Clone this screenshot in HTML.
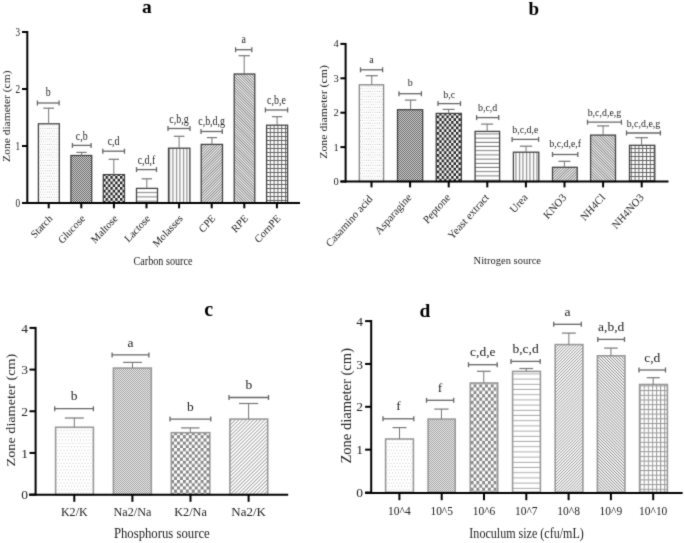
<!DOCTYPE html>
<html><head><meta charset="utf-8"><style>
html,body{margin:0;padding:0;background:#fff;width:685px;height:543px;overflow:hidden}
svg{display:block;will-change:transform}
text{font-family:"Liberation Serif",serif}
</style></head><body>
<svg width="685" height="543" viewBox="0 0 685 543" font-family="Liberation Serif, serif"><defs><filter id="soft" color-interpolation-filters="sRGB" x="0" y="0" width="100%" height="100%" filterUnits="userSpaceOnUse" primitiveUnits="userSpaceOnUse"><feConvolveMatrix order="3" kernelMatrix="0.02 0.09 0.02 0.09 0.56 0.09 0.02 0.09 0.02" edgeMode="duplicate" preserveAlpha="true"/></filter>
<pattern id="dots" patternUnits="userSpaceOnUse" width="2.2" height="5.3"><rect width="2.2" height="5.3" fill="#fff"/><rect x="0.6" y="0.8" width="0.7" height="0.7" fill="#888"/><rect x="1.7000000000000002" y="3.45" width="0.7" height="0.7" fill="#888"/></pattern>
<pattern id="fine" patternUnits="userSpaceOnUse" width="2" height="2"><rect width="2" height="2" fill="#e4e4e4"/><rect width="1" height="1" fill="#555"/><rect x="1" y="1" width="1" height="1" fill="#555"/></pattern>
<pattern id="coarse" patternUnits="userSpaceOnUse" width="4.8" height="5.5"><rect width="4.8" height="5.5" fill="#fff"/><rect width="2.4" height="2.75" fill="#222"/><rect x="2.4" y="2.75" width="2.4" height="2.75" fill="#222"/></pattern>
<pattern id="hl" patternUnits="userSpaceOnUse" width="4" height="4.2"><rect width="4" height="4.2" fill="#fff"/><rect y="3.2" width="4" height="1" fill="#777"/></pattern>
<pattern id="vl" patternUnits="userSpaceOnUse" width="3.5" height="4"><rect width="3.5" height="4" fill="#fff"/><rect x="1" width="1" height="4" fill="#777"/></pattern>
<pattern id="d1" patternUnits="userSpaceOnUse" width="1.95" height="4" patternTransform="rotate(45)"><rect width="1.95" height="4" fill="#fff"/><rect width="0.8" height="4" fill="#666"/></pattern>
<pattern id="d2" patternUnits="userSpaceOnUse" width="1.95" height="4" patternTransform="rotate(-45)"><rect width="1.95" height="4" fill="#fff"/><rect width="0.8" height="4" fill="#666"/></pattern>
<pattern id="grid" patternUnits="userSpaceOnUse" width="3.8" height="4.0"><rect width="3.8" height="4.0" fill="#fff"/><rect width="3.8" height="1" fill="#666"/><rect width="1" height="4.0" fill="#666"/></pattern>

<pattern id="dotsL" patternUnits="userSpaceOnUse" width="3.0" height="6.6"><rect width="3.0" height="6.6" fill="#fff"/><rect x="0.6" y="0.8" width="0.8" height="0.8" fill="#aaa"/><rect x="2.1" y="4.1" width="0.8" height="0.8" fill="#aaa"/></pattern>
<pattern id="fineL" patternUnits="userSpaceOnUse" width="2" height="2"><rect width="2" height="2" fill="#f4f4f4"/><rect width="1" height="1" fill="#999"/><rect x="1" y="1" width="1" height="1" fill="#999"/></pattern>
<pattern id="coarseL" patternUnits="userSpaceOnUse" width="5.9" height="6.4"><rect width="5.9" height="6.4" fill="#fff"/><rect width="2.95" height="3.2" fill="#888"/><rect x="2.95" y="3.2" width="2.95" height="3.2" fill="#888"/></pattern>
<pattern id="hlL" patternUnits="userSpaceOnUse" width="4" height="4.2"><rect width="4" height="4.2" fill="#fff"/><rect y="3.2" width="4" height="1" fill="#999"/></pattern>
<pattern id="vlL" patternUnits="userSpaceOnUse" width="3.5" height="4"><rect width="3.5" height="4" fill="#fff"/><rect x="1" width="1" height="4" fill="#999"/></pattern>
<pattern id="d1L" patternUnits="userSpaceOnUse" width="2.6" height="4" patternTransform="rotate(45)"><rect width="2.6" height="4" fill="#fff"/><rect width="0.8" height="4" fill="#999"/></pattern>
<pattern id="d2L" patternUnits="userSpaceOnUse" width="2.6" height="4" patternTransform="rotate(-45)"><rect width="2.6" height="4" fill="#fff"/><rect width="0.8" height="4" fill="#999"/></pattern>
<pattern id="gridL" patternUnits="userSpaceOnUse" width="3.8" height="4.0"><rect width="3.8" height="4.0" fill="#fff"/><rect width="3.8" height="1" fill="#999"/><rect width="1" height="4.0" fill="#999"/></pattern>

<pattern id="dotsD" patternUnits="userSpaceOnUse" width="3.0" height="6.6"><rect width="3.0" height="6.6" fill="#fff"/><rect x="0.6" y="0.8" width="0.8" height="0.8" fill="#aaa"/><rect x="2.1" y="4.1" width="0.8" height="0.8" fill="#aaa"/></pattern>
<pattern id="fineD" patternUnits="userSpaceOnUse" width="2" height="2"><rect width="2" height="2" fill="#f4f4f4"/><rect width="1" height="1" fill="#999"/><rect x="1" y="1" width="1" height="1" fill="#999"/></pattern>
<pattern id="coarseD" patternUnits="userSpaceOnUse" width="5.74" height="6.68"><rect width="5.74" height="6.68" fill="#fff"/><rect width="2.87" height="3.34" fill="#888"/><rect x="2.87" y="3.34" width="2.87" height="3.34" fill="#888"/></pattern>
<pattern id="hlD" patternUnits="userSpaceOnUse" width="4" height="5.2"><rect width="4" height="5.2" fill="#fff"/><rect y="4.2" width="4" height="1" fill="#aaa"/></pattern>
<pattern id="vlD" patternUnits="userSpaceOnUse" width="3.5" height="4"><rect width="3.5" height="4" fill="#fff"/><rect x="1" width="1" height="4" fill="#aaa"/></pattern>
<pattern id="d1D" patternUnits="userSpaceOnUse" width="2.1" height="4" patternTransform="rotate(45)"><rect width="2.1" height="4" fill="#fff"/><rect width="0.8" height="4" fill="#999"/></pattern>
<pattern id="d2D" patternUnits="userSpaceOnUse" width="2.1" height="4" patternTransform="rotate(-45)"><rect width="2.1" height="4" fill="#fff"/><rect width="0.8" height="4" fill="#888"/></pattern>
<pattern id="gridD" patternUnits="userSpaceOnUse" width="4.1" height="4.7"><rect width="4.1" height="4.7" fill="#fff"/><rect width="4.1" height="1" fill="#999"/><rect width="1" height="4.7" fill="#999"/></pattern>
</defs><g filter="url(#soft)"><rect width="685" height="543" fill="#fff"/><rect x="38.40" y="123.80" width="20.90" height="79.20" fill="url(#dots)" stroke="#444" stroke-width="1.3"/>
<line x1="48.65" y1="123.80" x2="48.65" y2="108.20" stroke="#777" stroke-width="1"/>
<line x1="43.30" y1="108.20" x2="54.00" y2="108.20" stroke="#777" stroke-width="1.2"/>
<line x1="37.40" y1="103.00" x2="59.10" y2="103.00" stroke="#666" stroke-width="1.3"/>
<line x1="37.40" y1="100.50" x2="37.40" y2="105.50" stroke="#666" stroke-width="1.3"/>
<line x1="59.10" y1="100.50" x2="59.10" y2="105.50" stroke="#666" stroke-width="1.3"/>
<text x="0" y="0" transform="translate(48.25 96.20) scale(0.83 1)" font-size="12" text-anchor="middle" fill="#222">b</text>
<rect x="70.90" y="155.50" width="20.80" height="47.50" fill="url(#fine)" stroke="#444" stroke-width="1.3"/>
<line x1="81.55" y1="155.50" x2="81.55" y2="152.40" stroke="#777" stroke-width="1"/>
<line x1="76.40" y1="152.40" x2="86.70" y2="152.40" stroke="#777" stroke-width="1.2"/>
<line x1="72.40" y1="145.40" x2="91.10" y2="145.40" stroke="#666" stroke-width="1.3"/>
<line x1="72.40" y1="142.90" x2="72.40" y2="147.90" stroke="#666" stroke-width="1.3"/>
<line x1="91.10" y1="142.90" x2="91.10" y2="147.90" stroke="#666" stroke-width="1.3"/>
<text x="0" y="0" transform="translate(81.75 140.00) scale(0.83 1)" font-size="12" text-anchor="middle" fill="#222">c,b</text>
<rect x="103.30" y="174.60" width="21.20" height="28.40" fill="url(#coarse)" stroke="#444" stroke-width="1.3"/>
<line x1="113.80" y1="174.60" x2="113.80" y2="159.30" stroke="#777" stroke-width="1"/>
<line x1="108.60" y1="159.30" x2="119.00" y2="159.30" stroke="#777" stroke-width="1.2"/>
<line x1="102.80" y1="151.20" x2="124.50" y2="151.20" stroke="#666" stroke-width="1.3"/>
<line x1="102.80" y1="148.70" x2="102.80" y2="153.70" stroke="#666" stroke-width="1.3"/>
<line x1="124.50" y1="148.70" x2="124.50" y2="153.70" stroke="#666" stroke-width="1.3"/>
<text x="0" y="0" transform="translate(113.65 145.00) scale(0.83 1)" font-size="12" text-anchor="middle" fill="#222">c,d</text>
<rect x="136.50" y="188.40" width="21.00" height="14.60" fill="url(#hl)" stroke="#444" stroke-width="1.3"/>
<line x1="146.80" y1="188.40" x2="146.80" y2="178.80" stroke="#777" stroke-width="1"/>
<line x1="141.60" y1="178.80" x2="152.00" y2="178.80" stroke="#777" stroke-width="1.2"/>
<line x1="136.50" y1="169.60" x2="156.50" y2="169.60" stroke="#666" stroke-width="1.3"/>
<line x1="136.50" y1="167.10" x2="136.50" y2="172.10" stroke="#666" stroke-width="1.3"/>
<line x1="156.50" y1="167.10" x2="156.50" y2="172.10" stroke="#666" stroke-width="1.3"/>
<text x="0" y="0" transform="translate(146.50 163.50) scale(0.83 1)" font-size="12" text-anchor="middle" fill="#222">c,d,f</text>
<rect x="168.50" y="148.20" width="21.40" height="54.80" fill="url(#vl)" stroke="#444" stroke-width="1.3"/>
<line x1="179.10" y1="148.20" x2="179.10" y2="136.30" stroke="#777" stroke-width="1"/>
<line x1="173.80" y1="136.30" x2="184.40" y2="136.30" stroke="#777" stroke-width="1.2"/>
<line x1="168.00" y1="128.50" x2="190.00" y2="128.50" stroke="#666" stroke-width="1.3"/>
<line x1="168.00" y1="126.00" x2="168.00" y2="131.00" stroke="#666" stroke-width="1.3"/>
<line x1="190.00" y1="126.00" x2="190.00" y2="131.00" stroke="#666" stroke-width="1.3"/>
<text x="0" y="0" transform="translate(179.00 122.80) scale(0.83 1)" font-size="12" text-anchor="middle" fill="#222">c,b,g</text>
<rect x="201.20" y="144.40" width="21.30" height="58.60" fill="url(#d1)" stroke="#444" stroke-width="1.3"/>
<line x1="211.95" y1="144.40" x2="211.95" y2="137.60" stroke="#777" stroke-width="1"/>
<line x1="206.90" y1="137.60" x2="217.00" y2="137.60" stroke="#777" stroke-width="1.2"/>
<line x1="201.00" y1="131.50" x2="222.30" y2="131.50" stroke="#666" stroke-width="1.3"/>
<line x1="201.00" y1="129.00" x2="201.00" y2="134.00" stroke="#666" stroke-width="1.3"/>
<line x1="222.30" y1="129.00" x2="222.30" y2="134.00" stroke="#666" stroke-width="1.3"/>
<text x="0" y="0" transform="translate(211.65 124.60) scale(0.83 1)" font-size="12" text-anchor="middle" fill="#222">c,b,d,g</text>
<rect x="234.20" y="74.00" width="20.60" height="129.00" fill="url(#d2)" stroke="#444" stroke-width="1.3"/>
<line x1="244.20" y1="74.00" x2="244.20" y2="55.70" stroke="#777" stroke-width="1"/>
<line x1="238.60" y1="55.70" x2="249.80" y2="55.70" stroke="#777" stroke-width="1.2"/>
<line x1="235.60" y1="49.70" x2="251.80" y2="49.70" stroke="#666" stroke-width="1.3"/>
<line x1="235.60" y1="47.20" x2="235.60" y2="52.20" stroke="#666" stroke-width="1.3"/>
<line x1="251.80" y1="47.20" x2="251.80" y2="52.20" stroke="#666" stroke-width="1.3"/>
<text x="0" y="0" transform="translate(243.70 42.80) scale(0.83 1)" font-size="12" text-anchor="middle" fill="#222">a</text>
<rect x="266.60" y="125.20" width="21.00" height="77.80" fill="url(#grid)" stroke="#444" stroke-width="1.3"/>
<line x1="277.10" y1="125.20" x2="277.10" y2="116.70" stroke="#777" stroke-width="1"/>
<line x1="271.90" y1="116.70" x2="282.30" y2="116.70" stroke="#777" stroke-width="1.2"/>
<line x1="265.40" y1="110.00" x2="287.60" y2="110.00" stroke="#666" stroke-width="1.3"/>
<line x1="265.40" y1="107.50" x2="265.40" y2="112.50" stroke="#666" stroke-width="1.3"/>
<line x1="287.60" y1="107.50" x2="287.60" y2="112.50" stroke="#666" stroke-width="1.3"/>
<text x="0" y="0" transform="translate(276.50 104.30) scale(0.83 1)" font-size="12" text-anchor="middle" fill="#222">c,b,e</text>
<line x1="27.30" y1="31.00" x2="27.30" y2="204.00" stroke="#000" stroke-width="2"/>
<line x1="22.00" y1="203.00" x2="27.30" y2="203.00" stroke="#000" stroke-width="2"/>
<text x="20.20" y="207.01" font-size="11.8" text-anchor="end" fill="#222" textLength="4.60" lengthAdjust="spacingAndGlyphs">0</text>
<line x1="22.00" y1="146.00" x2="27.30" y2="146.00" stroke="#000" stroke-width="2"/>
<text x="20.20" y="150.01" font-size="11.8" text-anchor="end" fill="#222" textLength="4.60" lengthAdjust="spacingAndGlyphs">1</text>
<line x1="22.00" y1="89.00" x2="27.30" y2="89.00" stroke="#000" stroke-width="2"/>
<text x="20.20" y="93.01" font-size="11.8" text-anchor="end" fill="#222" textLength="4.60" lengthAdjust="spacingAndGlyphs">2</text>
<line x1="22.00" y1="32.00" x2="27.30" y2="32.00" stroke="#000" stroke-width="2"/>
<text x="20.20" y="36.01" font-size="11.8" text-anchor="end" fill="#222" textLength="4.60" lengthAdjust="spacingAndGlyphs">3</text>
<line x1="22.00" y1="203.00" x2="300.00" y2="203.00" stroke="#000" stroke-width="2"/>
<line x1="48.70" y1="203.00" x2="48.70" y2="208.30" stroke="#000" stroke-width="2"/>
<line x1="81.30" y1="203.00" x2="81.30" y2="208.30" stroke="#000" stroke-width="2"/>
<line x1="113.90" y1="203.00" x2="113.90" y2="208.30" stroke="#000" stroke-width="2"/>
<line x1="146.50" y1="203.00" x2="146.50" y2="208.30" stroke="#000" stroke-width="2"/>
<line x1="179.10" y1="203.00" x2="179.10" y2="208.30" stroke="#000" stroke-width="2"/>
<line x1="211.70" y1="203.00" x2="211.70" y2="208.30" stroke="#000" stroke-width="2"/>
<line x1="244.30" y1="203.00" x2="244.30" y2="208.30" stroke="#000" stroke-width="2"/>
<line x1="276.90" y1="203.00" x2="276.90" y2="208.30" stroke="#000" stroke-width="2"/>
<text x="0" y="0" transform="translate(53.00 219.10) scale(0.93 1) rotate(-45)" font-size="10.9" text-anchor="end" fill="#222">Starch</text>
<text x="0" y="0" transform="translate(85.60 219.10) scale(0.93 1) rotate(-45)" font-size="10.9" text-anchor="end" fill="#222">Glucose</text>
<text x="0" y="0" transform="translate(118.20 219.10) scale(0.93 1) rotate(-45)" font-size="10.9" text-anchor="end" fill="#222">Maltose</text>
<text x="0" y="0" transform="translate(150.80 219.10) scale(0.93 1) rotate(-45)" font-size="10.9" text-anchor="end" fill="#222">Lactose</text>
<text x="0" y="0" transform="translate(183.40 219.10) scale(0.93 1) rotate(-45)" font-size="10.9" text-anchor="end" fill="#222">Molasses</text>
<text x="0" y="0" transform="translate(216.00 219.10) scale(0.93 1) rotate(-45)" font-size="10.9" text-anchor="end" fill="#222">CPE</text>
<text x="0" y="0" transform="translate(248.60 219.10) scale(0.93 1) rotate(-45)" font-size="10.9" text-anchor="end" fill="#222">RPE</text>
<text x="0" y="0" transform="translate(281.20 219.10) scale(0.93 1) rotate(-45)" font-size="10.9" text-anchor="end" fill="#222">CornPE</text>
<text x="163.00" y="264.60" font-size="12" text-anchor="middle" fill="#222" textLength="58.90" lengthAdjust="spacingAndGlyphs">Carbon source</text>
<text x="146.80" y="12.60" font-size="19.5" text-anchor="middle" fill="#000" font-weight="bold">a</text>
<text x="0" y="0" transform="translate(10.00 116.20) scale(0.95 1) rotate(-90)" font-size="11.5" text-anchor="middle" fill="#222" textLength="91.40" lengthAdjust="spacingAndGlyphs">Zone diameter (cm)</text>
<rect x="359.30" y="84.80" width="24.30" height="96.70" fill="url(#dots)" stroke="#888" stroke-width="1.3"/>
<line x1="371.75" y1="84.80" x2="371.75" y2="75.70" stroke="#777" stroke-width="1"/>
<line x1="365.70" y1="75.70" x2="377.80" y2="75.70" stroke="#777" stroke-width="1.2"/>
<line x1="360.50" y1="69.80" x2="382.60" y2="69.80" stroke="#666" stroke-width="1.3"/>
<line x1="360.50" y1="67.30" x2="360.50" y2="72.30" stroke="#666" stroke-width="1.3"/>
<line x1="382.60" y1="67.30" x2="382.60" y2="72.30" stroke="#666" stroke-width="1.3"/>
<text x="0" y="0" transform="translate(371.55 62.80) scale(0.87 1)" font-size="11.4" text-anchor="middle" fill="#222">a</text>
<rect x="397.50" y="109.70" width="25.20" height="71.80" fill="url(#fine)" stroke="#444" stroke-width="1.3"/>
<line x1="410.60" y1="109.70" x2="410.60" y2="100.10" stroke="#777" stroke-width="1"/>
<line x1="404.90" y1="100.10" x2="416.30" y2="100.10" stroke="#777" stroke-width="1.2"/>
<line x1="399.00" y1="93.70" x2="421.40" y2="93.70" stroke="#666" stroke-width="1.3"/>
<line x1="399.00" y1="91.20" x2="399.00" y2="96.20" stroke="#666" stroke-width="1.3"/>
<line x1="421.40" y1="91.20" x2="421.40" y2="96.20" stroke="#666" stroke-width="1.3"/>
<text x="0" y="0" transform="translate(410.20 86.20) scale(0.87 1)" font-size="11.4" text-anchor="middle" fill="#222">b</text>
<rect x="436.20" y="113.40" width="25.20" height="68.10" fill="url(#coarse)" stroke="#444" stroke-width="1.3"/>
<line x1="448.60" y1="113.40" x2="448.60" y2="109.40" stroke="#777" stroke-width="1"/>
<line x1="442.60" y1="109.40" x2="454.60" y2="109.40" stroke="#777" stroke-width="1.2"/>
<line x1="438.00" y1="103.60" x2="460.50" y2="103.60" stroke="#666" stroke-width="1.3"/>
<line x1="438.00" y1="101.10" x2="438.00" y2="106.10" stroke="#666" stroke-width="1.3"/>
<line x1="460.50" y1="101.10" x2="460.50" y2="106.10" stroke="#666" stroke-width="1.3"/>
<text x="0" y="0" transform="translate(449.25 97.60) scale(0.87 1)" font-size="11.4" text-anchor="middle" fill="#222">b,c</text>
<rect x="475.10" y="131.40" width="24.50" height="50.10" fill="url(#hl)" stroke="#444" stroke-width="1.3"/>
<line x1="487.15" y1="131.40" x2="487.15" y2="124.10" stroke="#777" stroke-width="1"/>
<line x1="481.20" y1="124.10" x2="493.10" y2="124.10" stroke="#777" stroke-width="1.2"/>
<line x1="476.60" y1="117.60" x2="498.70" y2="117.60" stroke="#666" stroke-width="1.3"/>
<line x1="476.60" y1="115.10" x2="476.60" y2="120.10" stroke="#666" stroke-width="1.3"/>
<line x1="498.70" y1="115.10" x2="498.70" y2="120.10" stroke="#666" stroke-width="1.3"/>
<text x="0" y="0" transform="translate(487.65 110.90) scale(0.87 1)" font-size="11.4" text-anchor="middle" fill="#222">b,c,d</text>
<rect x="513.40" y="152.20" width="25.40" height="29.30" fill="url(#vl)" stroke="#444" stroke-width="1.3"/>
<line x1="526.05" y1="152.20" x2="526.05" y2="146.20" stroke="#777" stroke-width="1"/>
<line x1="519.90" y1="146.20" x2="532.20" y2="146.20" stroke="#777" stroke-width="1.2"/>
<line x1="512.10" y1="139.40" x2="538.60" y2="139.40" stroke="#666" stroke-width="1.3"/>
<line x1="512.10" y1="136.90" x2="512.10" y2="141.90" stroke="#666" stroke-width="1.3"/>
<line x1="538.60" y1="136.90" x2="538.60" y2="141.90" stroke="#666" stroke-width="1.3"/>
<text x="0" y="0" transform="translate(525.35 133.40) scale(0.87 1)" font-size="11.4" text-anchor="middle" fill="#222">b,c,d,e</text>
<rect x="552.50" y="167.30" width="24.70" height="14.20" fill="url(#d1)" stroke="#444" stroke-width="1.3"/>
<line x1="564.40" y1="167.30" x2="564.40" y2="161.30" stroke="#777" stroke-width="1"/>
<line x1="558.40" y1="161.30" x2="570.40" y2="161.30" stroke="#777" stroke-width="1.2"/>
<line x1="552.50" y1="154.50" x2="577.80" y2="154.50" stroke="#666" stroke-width="1.3"/>
<line x1="552.50" y1="152.00" x2="552.50" y2="157.00" stroke="#666" stroke-width="1.3"/>
<line x1="577.80" y1="152.00" x2="577.80" y2="157.00" stroke="#666" stroke-width="1.3"/>
<text x="0" y="0" transform="translate(565.15 147.00) scale(0.87 1)" font-size="11.4" text-anchor="middle" fill="#222">b,c,d,e,f</text>
<rect x="590.60" y="135.10" width="24.90" height="46.40" fill="url(#d2)" stroke="#444" stroke-width="1.3"/>
<line x1="603.10" y1="135.10" x2="603.10" y2="125.90" stroke="#777" stroke-width="1"/>
<line x1="597.10" y1="125.90" x2="609.10" y2="125.90" stroke="#777" stroke-width="1.2"/>
<line x1="587.50" y1="122.20" x2="621.40" y2="122.20" stroke="#666" stroke-width="1.3"/>
<line x1="587.50" y1="119.70" x2="587.50" y2="124.70" stroke="#666" stroke-width="1.3"/>
<line x1="621.40" y1="119.70" x2="621.40" y2="124.70" stroke="#666" stroke-width="1.3"/>
<text x="0" y="0" transform="translate(604.45 115.50) scale(0.87 1)" font-size="11.4" text-anchor="middle" fill="#222">b,c,d,e,g</text>
<rect x="629.50" y="145.30" width="25.30" height="36.20" fill="url(#grid)" stroke="#444" stroke-width="1.3"/>
<line x1="641.60" y1="145.30" x2="641.60" y2="137.70" stroke="#777" stroke-width="1"/>
<line x1="635.30" y1="137.70" x2="647.90" y2="137.70" stroke="#777" stroke-width="1.2"/>
<line x1="626.50" y1="133.00" x2="660.40" y2="133.00" stroke="#666" stroke-width="1.3"/>
<line x1="626.50" y1="130.50" x2="626.50" y2="135.50" stroke="#666" stroke-width="1.3"/>
<line x1="660.40" y1="130.50" x2="660.40" y2="135.50" stroke="#666" stroke-width="1.3"/>
<text x="0" y="0" transform="translate(643.45 127.00) scale(0.87 1)" font-size="11.4" text-anchor="middle" fill="#222">b,c,d,e,g</text>
<line x1="345.60" y1="43.00" x2="345.60" y2="182.50" stroke="#000" stroke-width="2"/>
<line x1="340.40" y1="181.50" x2="345.60" y2="181.50" stroke="#000" stroke-width="2"/>
<text x="338.80" y="185.07" font-size="10.5" text-anchor="end" fill="#222">0</text>
<line x1="340.40" y1="147.10" x2="345.60" y2="147.10" stroke="#000" stroke-width="2"/>
<text x="338.80" y="150.67" font-size="10.5" text-anchor="end" fill="#222">1</text>
<line x1="340.40" y1="112.70" x2="345.60" y2="112.70" stroke="#000" stroke-width="2"/>
<text x="338.80" y="116.27" font-size="10.5" text-anchor="end" fill="#222">2</text>
<line x1="340.40" y1="78.30" x2="345.60" y2="78.30" stroke="#000" stroke-width="2"/>
<text x="338.80" y="81.87" font-size="10.5" text-anchor="end" fill="#222">3</text>
<line x1="340.40" y1="43.90" x2="345.60" y2="43.90" stroke="#000" stroke-width="2"/>
<text x="338.80" y="47.47" font-size="10.5" text-anchor="end" fill="#222">4</text>
<line x1="340.50" y1="181.50" x2="668.50" y2="181.50" stroke="#000" stroke-width="2"/>
<line x1="371.50" y1="181.50" x2="371.50" y2="187.40" stroke="#000" stroke-width="2"/>
<line x1="410.10" y1="181.50" x2="410.10" y2="187.40" stroke="#000" stroke-width="2"/>
<line x1="448.70" y1="181.50" x2="448.70" y2="187.40" stroke="#000" stroke-width="2"/>
<line x1="487.30" y1="181.50" x2="487.30" y2="187.40" stroke="#000" stroke-width="2"/>
<line x1="525.90" y1="181.50" x2="525.90" y2="187.40" stroke="#000" stroke-width="2"/>
<line x1="564.50" y1="181.50" x2="564.50" y2="187.40" stroke="#000" stroke-width="2"/>
<line x1="603.10" y1="181.50" x2="603.10" y2="187.40" stroke="#000" stroke-width="2"/>
<line x1="641.70" y1="181.50" x2="641.70" y2="187.40" stroke="#000" stroke-width="2"/>
<text x="0" y="0" transform="translate(373.10 199.30) scale(0.95 1) rotate(-47)" font-size="11.2" text-anchor="end" fill="#222">Casamino acid</text>
<text x="0" y="0" transform="translate(412.20 197.90) scale(0.95 1) rotate(-47)" font-size="11.2" text-anchor="end" fill="#222">Asparagine</text>
<text x="0" y="0" transform="translate(450.90 197.90) scale(0.95 1) rotate(-47)" font-size="11.2" text-anchor="end" fill="#222">Peptone</text>
<text x="0" y="0" transform="translate(489.60 197.90) scale(0.95 1) rotate(-47)" font-size="11.2" text-anchor="end" fill="#222">Yeast extract</text>
<text x="0" y="0" transform="translate(528.30 197.90) scale(0.95 1) rotate(-47)" font-size="11.2" text-anchor="end" fill="#222">Urea</text>
<text x="0" y="0" transform="translate(567.00 197.90) scale(0.95 1) rotate(-47)" font-size="11.2" text-anchor="end" fill="#222">KNO3</text>
<text x="0" y="0" transform="translate(605.70 197.90) scale(0.95 1) rotate(-47)" font-size="11.2" text-anchor="end" fill="#222">NH4Cl</text>
<text x="0" y="0" transform="translate(644.40 197.90) scale(0.95 1) rotate(-47)" font-size="11.2" text-anchor="end" fill="#222">NH4NO3</text>
<text x="507.30" y="264.00" font-size="10.5" text-anchor="middle" fill="#222" textLength="67.40" lengthAdjust="spacingAndGlyphs">Nitrogen source</text>
<text x="533.70" y="14.90" font-size="19" text-anchor="middle" fill="#000" font-weight="bold">b</text>
<text x="0" y="0" transform="translate(327.40 112.00) scale(0.92 1) rotate(-90)" font-size="11.3" text-anchor="middle" fill="#222" textLength="93.60" lengthAdjust="spacingAndGlyphs">Zone diameter (cm)</text>
<rect x="55.60" y="427.30" width="37.80" height="67.30" fill="url(#dotsL)" stroke="#999" stroke-width="1.6"/>
<line x1="74.30" y1="427.30" x2="74.30" y2="418.00" stroke="#777" stroke-width="1"/>
<line x1="64.80" y1="418.00" x2="83.80" y2="418.00" stroke="#777" stroke-width="1.2"/>
<line x1="54.70" y1="408.70" x2="93.40" y2="408.70" stroke="#666" stroke-width="1.3"/>
<line x1="54.70" y1="406.20" x2="54.70" y2="411.20" stroke="#666" stroke-width="1.3"/>
<line x1="93.40" y1="406.20" x2="93.40" y2="411.20" stroke="#666" stroke-width="1.3"/>
<text x="74.05" y="400.30" font-size="13.5" text-anchor="middle" fill="#222">b</text>
<rect x="113.40" y="368.10" width="37.90" height="126.50" fill="url(#fineL)" stroke="#999" stroke-width="1.6"/>
<line x1="132.50" y1="368.10" x2="132.50" y2="362.40" stroke="#777" stroke-width="1"/>
<line x1="123.10" y1="362.40" x2="141.90" y2="362.40" stroke="#777" stroke-width="1.2"/>
<line x1="112.10" y1="354.90" x2="148.90" y2="354.90" stroke="#666" stroke-width="1.3"/>
<line x1="112.10" y1="352.40" x2="112.10" y2="357.40" stroke="#666" stroke-width="1.3"/>
<line x1="148.90" y1="352.40" x2="148.90" y2="357.40" stroke="#666" stroke-width="1.3"/>
<text x="130.50" y="346.50" font-size="13.5" text-anchor="middle" fill="#222">a</text>
<rect x="171.30" y="432.70" width="38.50" height="61.90" fill="url(#coarseL)" stroke="#999" stroke-width="1.6"/>
<line x1="190.30" y1="432.70" x2="190.30" y2="427.90" stroke="#777" stroke-width="1"/>
<line x1="181.10" y1="427.90" x2="199.50" y2="427.90" stroke="#777" stroke-width="1.2"/>
<line x1="170.00" y1="419.10" x2="210.80" y2="419.10" stroke="#666" stroke-width="1.3"/>
<line x1="170.00" y1="416.60" x2="170.00" y2="421.60" stroke="#666" stroke-width="1.3"/>
<line x1="210.80" y1="416.60" x2="210.80" y2="421.60" stroke="#666" stroke-width="1.3"/>
<text x="190.40" y="410.70" font-size="13.5" text-anchor="middle" fill="#222">b</text>
<rect x="229.90" y="419.10" width="37.80" height="75.50" fill="url(#d1L)" stroke="#999" stroke-width="1.6"/>
<line x1="248.60" y1="419.10" x2="248.60" y2="403.50" stroke="#777" stroke-width="1"/>
<line x1="239.00" y1="403.50" x2="258.20" y2="403.50" stroke="#777" stroke-width="1.2"/>
<line x1="229.00" y1="397.50" x2="268.50" y2="397.50" stroke="#666" stroke-width="1.3"/>
<line x1="229.00" y1="395.00" x2="229.00" y2="400.00" stroke="#666" stroke-width="1.3"/>
<line x1="268.50" y1="395.00" x2="268.50" y2="400.00" stroke="#666" stroke-width="1.3"/>
<text x="248.75" y="389.10" font-size="13.5" text-anchor="middle" fill="#222">b</text>
<line x1="35.60" y1="326.90" x2="35.60" y2="495.60" stroke="#000" stroke-width="2"/>
<line x1="29.50" y1="494.60" x2="35.60" y2="494.60" stroke="#000" stroke-width="2"/>
<text x="28.00" y="499.19" font-size="13.5" text-anchor="end" fill="#222">0</text>
<line x1="29.50" y1="452.93" x2="35.60" y2="452.93" stroke="#000" stroke-width="2"/>
<text x="28.00" y="457.52" font-size="13.5" text-anchor="end" fill="#222">1</text>
<line x1="29.50" y1="411.26" x2="35.60" y2="411.26" stroke="#000" stroke-width="2"/>
<text x="28.00" y="415.85" font-size="13.5" text-anchor="end" fill="#222">2</text>
<line x1="29.50" y1="369.59" x2="35.60" y2="369.59" stroke="#000" stroke-width="2"/>
<text x="28.00" y="374.18" font-size="13.5" text-anchor="end" fill="#222">3</text>
<line x1="29.50" y1="327.92" x2="35.60" y2="327.92" stroke="#000" stroke-width="2"/>
<text x="28.00" y="332.51" font-size="13.5" text-anchor="end" fill="#222">4</text>
<line x1="29.00" y1="494.70" x2="288.20" y2="494.70" stroke="#000" stroke-width="2"/>
<line x1="74.30" y1="494.70" x2="74.30" y2="501.80" stroke="#000" stroke-width="2"/>
<line x1="132.40" y1="494.70" x2="132.40" y2="501.80" stroke="#000" stroke-width="2"/>
<line x1="190.50" y1="494.70" x2="190.50" y2="501.80" stroke="#000" stroke-width="2"/>
<line x1="248.60" y1="494.70" x2="248.60" y2="501.80" stroke="#000" stroke-width="2"/>
<text x="74.30" y="516.30" font-size="13.5" text-anchor="middle" fill="#222" textLength="26.80" lengthAdjust="spacingAndGlyphs">K2/K</text>
<text x="132.40" y="516.30" font-size="13.5" text-anchor="middle" fill="#222" textLength="37.80" lengthAdjust="spacingAndGlyphs">Na2/Na</text>
<text x="190.50" y="516.30" font-size="13.5" text-anchor="middle" fill="#222" textLength="32.70" lengthAdjust="spacingAndGlyphs">K2/Na</text>
<text x="248.60" y="516.30" font-size="13.5" text-anchor="middle" fill="#222" textLength="34.60" lengthAdjust="spacingAndGlyphs">Na2/K</text>
<text x="161.80" y="538.20" font-size="14" text-anchor="middle" fill="#222" textLength="95.80" lengthAdjust="spacingAndGlyphs">Phosphorus source</text>
<text x="208.80" y="316.10" font-size="20" text-anchor="middle" fill="#000" font-weight="bold">c</text>
<text x="15.00" y="410.10" font-size="13.4" text-anchor="middle" fill="#222" textLength="112.60" lengthAdjust="spacingAndGlyphs" transform="rotate(-90 15.00 410.10)">Zone diameter (cm)</text>
<rect x="385.60" y="439.00" width="27.80" height="53.20" fill="url(#dotsD)" stroke="#999" stroke-width="1.6"/>
<line x1="399.50" y1="439.00" x2="399.50" y2="427.60" stroke="#777" stroke-width="1"/>
<line x1="392.60" y1="427.60" x2="406.40" y2="427.60" stroke="#777" stroke-width="1.2"/>
<line x1="383.00" y1="418.80" x2="413.80" y2="418.80" stroke="#666" stroke-width="1.3"/>
<line x1="383.00" y1="416.30" x2="383.00" y2="421.30" stroke="#666" stroke-width="1.3"/>
<line x1="413.80" y1="416.30" x2="413.80" y2="421.30" stroke="#666" stroke-width="1.3"/>
<text x="398.40" y="410.40" font-size="13.5" text-anchor="middle" fill="#222">f</text>
<rect x="428.10" y="419.10" width="27.10" height="73.10" fill="url(#fineD)" stroke="#999" stroke-width="1.6"/>
<line x1="441.45" y1="419.10" x2="441.45" y2="409.10" stroke="#777" stroke-width="1"/>
<line x1="434.30" y1="409.10" x2="448.60" y2="409.10" stroke="#777" stroke-width="1.2"/>
<line x1="426.50" y1="400.30" x2="453.70" y2="400.30" stroke="#666" stroke-width="1.3"/>
<line x1="426.50" y1="397.80" x2="426.50" y2="402.80" stroke="#666" stroke-width="1.3"/>
<line x1="453.70" y1="397.80" x2="453.70" y2="402.80" stroke="#666" stroke-width="1.3"/>
<text x="440.10" y="391.90" font-size="13.5" text-anchor="middle" fill="#222">f</text>
<rect x="470.30" y="383.00" width="27.40" height="109.20" fill="url(#coarseD)" stroke="#999" stroke-width="1.6"/>
<line x1="483.75" y1="383.00" x2="483.75" y2="371.30" stroke="#777" stroke-width="1"/>
<line x1="476.90" y1="371.30" x2="490.60" y2="371.30" stroke="#777" stroke-width="1.2"/>
<line x1="468.50" y1="364.70" x2="497.20" y2="364.70" stroke="#666" stroke-width="1.3"/>
<line x1="468.50" y1="362.20" x2="468.50" y2="367.20" stroke="#666" stroke-width="1.3"/>
<line x1="497.20" y1="362.20" x2="497.20" y2="367.20" stroke="#666" stroke-width="1.3"/>
<text x="482.85" y="356.30" font-size="13.5" text-anchor="middle" fill="#222">c,d,e</text>
<rect x="512.60" y="371.40" width="27.80" height="120.80" fill="url(#hlD)" stroke="#999" stroke-width="1.6"/>
<line x1="526.25" y1="371.40" x2="526.25" y2="368.50" stroke="#777" stroke-width="1"/>
<line x1="519.40" y1="368.50" x2="533.10" y2="368.50" stroke="#777" stroke-width="1.2"/>
<line x1="511.00" y1="361.40" x2="540.20" y2="361.40" stroke="#666" stroke-width="1.3"/>
<line x1="511.00" y1="358.90" x2="511.00" y2="363.90" stroke="#666" stroke-width="1.3"/>
<line x1="540.20" y1="358.90" x2="540.20" y2="363.90" stroke="#666" stroke-width="1.3"/>
<text x="525.60" y="353.00" font-size="13.5" text-anchor="middle" fill="#222">b,c,d</text>
<rect x="555.20" y="344.60" width="27.70" height="147.60" fill="url(#d1D)" stroke="#999" stroke-width="1.6"/>
<line x1="568.85" y1="344.60" x2="568.85" y2="333.10" stroke="#777" stroke-width="1"/>
<line x1="561.90" y1="333.10" x2="575.80" y2="333.10" stroke="#777" stroke-width="1.2"/>
<line x1="553.70" y1="324.30" x2="581.30" y2="324.30" stroke="#666" stroke-width="1.3"/>
<line x1="553.70" y1="321.80" x2="553.70" y2="326.80" stroke="#666" stroke-width="1.3"/>
<line x1="581.30" y1="321.80" x2="581.30" y2="326.80" stroke="#666" stroke-width="1.3"/>
<text x="567.50" y="315.90" font-size="13.5" text-anchor="middle" fill="#222">a</text>
<rect x="597.40" y="355.80" width="27.50" height="136.40" fill="url(#d2D)" stroke="#999" stroke-width="1.6"/>
<line x1="610.95" y1="355.80" x2="610.95" y2="348.10" stroke="#777" stroke-width="1"/>
<line x1="604.20" y1="348.10" x2="617.70" y2="348.10" stroke="#777" stroke-width="1.2"/>
<line x1="597.80" y1="339.40" x2="624.50" y2="339.40" stroke="#666" stroke-width="1.3"/>
<line x1="597.80" y1="336.90" x2="597.80" y2="341.90" stroke="#666" stroke-width="1.3"/>
<line x1="624.50" y1="336.90" x2="624.50" y2="341.90" stroke="#666" stroke-width="1.3"/>
<text x="611.15" y="331.00" font-size="13.5" text-anchor="middle" fill="#222">a,b,d</text>
<rect x="639.60" y="384.50" width="27.80" height="107.70" fill="url(#gridD)" stroke="#999" stroke-width="1.6"/>
<line x1="653.20" y1="384.50" x2="653.20" y2="377.70" stroke="#777" stroke-width="1"/>
<line x1="646.70" y1="377.70" x2="659.70" y2="377.70" stroke="#777" stroke-width="1.2"/>
<line x1="639.00" y1="370.00" x2="665.50" y2="370.00" stroke="#666" stroke-width="1.3"/>
<line x1="639.00" y1="367.50" x2="639.00" y2="372.50" stroke="#666" stroke-width="1.3"/>
<line x1="665.50" y1="367.50" x2="665.50" y2="372.50" stroke="#666" stroke-width="1.3"/>
<text x="652.25" y="361.60" font-size="13.5" text-anchor="middle" fill="#222">c,d</text>
<line x1="371.20" y1="320.00" x2="371.20" y2="493.50" stroke="#000" stroke-width="2"/>
<line x1="365.10" y1="492.50" x2="371.20" y2="492.50" stroke="#000" stroke-width="2"/>
<text x="363.00" y="497.09" font-size="13.5" text-anchor="end" fill="#222">0</text>
<line x1="365.10" y1="449.65" x2="371.20" y2="449.65" stroke="#000" stroke-width="2"/>
<text x="363.00" y="454.24" font-size="13.5" text-anchor="end" fill="#222">1</text>
<line x1="365.10" y1="406.80" x2="371.20" y2="406.80" stroke="#000" stroke-width="2"/>
<text x="363.00" y="411.39" font-size="13.5" text-anchor="end" fill="#222">2</text>
<line x1="365.10" y1="363.95" x2="371.20" y2="363.95" stroke="#000" stroke-width="2"/>
<text x="363.00" y="368.54" font-size="13.5" text-anchor="end" fill="#222">3</text>
<line x1="365.10" y1="321.10" x2="371.20" y2="321.10" stroke="#000" stroke-width="2"/>
<text x="363.00" y="325.69" font-size="13.5" text-anchor="end" fill="#222">4</text>
<line x1="365.10" y1="493.00" x2="682.60" y2="493.00" stroke="#000" stroke-width="2"/>
<line x1="399.40" y1="493.00" x2="399.40" y2="500.20" stroke="#000" stroke-width="2"/>
<line x1="441.70" y1="493.00" x2="441.70" y2="500.20" stroke="#000" stroke-width="2"/>
<line x1="484.00" y1="493.00" x2="484.00" y2="500.20" stroke="#000" stroke-width="2"/>
<line x1="526.30" y1="493.00" x2="526.30" y2="500.20" stroke="#000" stroke-width="2"/>
<line x1="568.60" y1="493.00" x2="568.60" y2="500.20" stroke="#000" stroke-width="2"/>
<line x1="610.90" y1="493.00" x2="610.90" y2="500.20" stroke="#000" stroke-width="2"/>
<line x1="653.20" y1="493.00" x2="653.20" y2="500.20" stroke="#000" stroke-width="2"/>
<text x="399.40" y="514.70" font-size="13.5" text-anchor="middle" fill="#222" textLength="22.60" lengthAdjust="spacingAndGlyphs">10^4</text>
<text x="441.70" y="514.70" font-size="13.5" text-anchor="middle" fill="#222" textLength="22.60" lengthAdjust="spacingAndGlyphs">10^5</text>
<text x="484.00" y="514.70" font-size="13.5" text-anchor="middle" fill="#222" textLength="22.60" lengthAdjust="spacingAndGlyphs">10^6</text>
<text x="526.30" y="514.70" font-size="13.5" text-anchor="middle" fill="#222" textLength="22.60" lengthAdjust="spacingAndGlyphs">10^7</text>
<text x="568.60" y="514.70" font-size="13.5" text-anchor="middle" fill="#222" textLength="22.60" lengthAdjust="spacingAndGlyphs">10^8</text>
<text x="610.90" y="514.70" font-size="13.5" text-anchor="middle" fill="#222" textLength="22.60" lengthAdjust="spacingAndGlyphs">10^9</text>
<text x="653.20" y="514.70" font-size="13.5" text-anchor="middle" fill="#222" textLength="28.30" lengthAdjust="spacingAndGlyphs">10^10</text>
<text x="526.60" y="537.60" font-size="14.5" text-anchor="middle" fill="#222" textLength="114.50" lengthAdjust="spacingAndGlyphs">Inoculum size (cfu/mL)</text>
<text x="425.00" y="317.10" font-size="19.5" text-anchor="middle" fill="#000" font-weight="bold">d</text>
<text x="351.30" y="405.80" font-size="13.6" text-anchor="middle" fill="#222" textLength="115.60" lengthAdjust="spacingAndGlyphs" transform="rotate(-90 351.30 405.80)">Zone diameter (cm)</text></g></svg>
</body></html>
